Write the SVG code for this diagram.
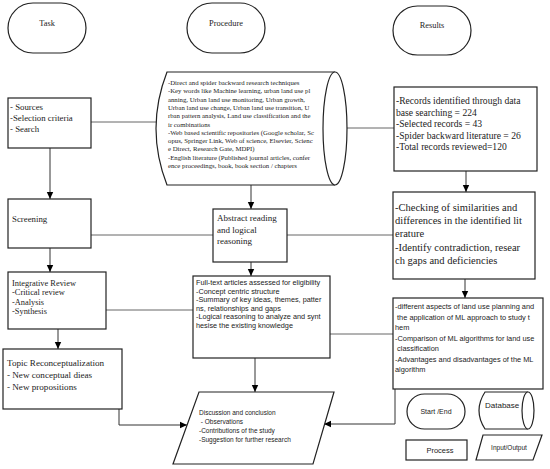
<svg xmlns="http://www.w3.org/2000/svg" width="550" height="469" viewBox="0 0 550 469">
<defs>
<marker id="ah" markerWidth="8" markerHeight="8" refX="7" refY="4" orient="auto" markerUnits="userSpaceOnUse">
<path d="M0,0.8 L7,4 L0,7.2 Z" fill="#000"/>
</marker>
</defs>
<style>
.box{fill:#fff;stroke:#222;stroke-width:1.2}
.con{fill:none;stroke:#666;stroke-width:1}
.arr{fill:none;stroke:#333;stroke-width:1;marker-end:url(#ah)}
.sf{font-family:"Liberation Serif","Times New Roman",serif;fill:#222}
.ss{font-family:"Liberation Sans",Arial,sans-serif;fill:#222}
</style>
<rect width="550" height="469" fill="#fff"/>
<g id="connectors">
<line class="con" x1="91" y1="122" x2="157" y2="122"/>
<line class="con" x1="347" y1="128" x2="394" y2="128"/>
<line class="con" x1="91" y1="235" x2="213" y2="235"/>
<line class="con" x1="287" y1="235" x2="393" y2="235"/>
<line class="con" x1="106" y1="310" x2="193" y2="310"/>
<line class="con" x1="330" y1="334" x2="393" y2="334"/>
<line class="arr" x1="50" y1="148" x2="50" y2="199"/>
<line class="arr" x1="50" y1="248" x2="50" y2="272"/>
<line class="arr" x1="58" y1="329" x2="58" y2="349"/>
<line class="arr" x1="251" y1="185" x2="251" y2="209"/>
<line class="arr" x1="251" y1="262" x2="251" y2="276"/>
<line class="arr" x1="255" y1="358" x2="255" y2="392"/>
<line class="arr" x1="466" y1="171" x2="466" y2="192"/>
<line class="arr" x1="465" y1="279" x2="465" y2="298"/>
<polyline class="arr" points="119,409 119,425 187,425"/>
<polyline class="arr" points="395,389 395,424 324,424"/>
</g>
<g id="task">
<rect class="box" x="8" y="3" width="78" height="50" rx="25"/>
<text class="sf" x="47" y="26" font-size="8.4" text-anchor="middle">Task</text>
</g>
<g id="procedure">
<rect class="box" x="187" y="3" width="78" height="50" rx="25"/>
<text class="sf" x="226" y="26" font-size="8.4" text-anchor="middle">Procedure</text>
</g>
<g id="results">
<rect class="box" x="393" y="6" width="78" height="49" rx="24.5"/>
<text class="sf" x="432" y="28" font-size="8.4" text-anchor="middle">Results</text>
</g>
<g id="sources">
<rect class="box" x="8" y="98" width="83" height="50"/>
<text class="sf" font-size="8.8"><tspan x="10" y="110">- Sources</tspan><tspan x="10" y="121">-Selection criteria</tspan><tspan x="10" y="132">- Search</tspan></text>
</g>
<g id="database-search">
<path class="box" d="M167,72 L335,72 A12,56.5 0 0 1 335,185 L167,185 Q145,128.5 167,72 Z"/>
<path class="box" d="M335,72 A12,56.5 0 0 0 335,185" fill="none"/>
<text class="sf" font-size="6.75"><tspan x="168" y="85">-Direct and spider backward research techniques</tspan><tspan x="168" y="93.3">-Key words like Machine learning, urban land use pl</tspan><tspan x="168" y="101.6">anning, Urban land use monitoring, Urban growth,</tspan><tspan x="168" y="109.9">Urban land use change, Urban land use transition, U</tspan><tspan x="168" y="118.2">rban pattern analysis, Land use classification and the</tspan><tspan x="168" y="126.5">ir combinations</tspan><tspan x="168" y="134.8">-Web based scientific repositories (Google scholar, Sc</tspan><tspan x="168" y="143.1">opus, Springer Link, Web of science, Elsevier, Scienc</tspan><tspan x="168" y="151.4">e Direct, Research Gate, MDPI)</tspan><tspan x="168" y="159.7">-English literature (Published journal articles, confer</tspan><tspan x="168" y="168">ence proceedings, book, book section / chapters</tspan></text>
</g>
<g id="records">
<rect class="box" x="394" y="87" width="143" height="84"/>
<text class="sf" font-size="9.6"><tspan x="396" y="104">-Records identified through data</tspan><tspan x="396" y="115.5">base searching = 224</tspan><tspan x="396" y="127">-Selected records = 43</tspan><tspan x="396" y="138.5">-Spider backward literature = 26</tspan><tspan x="396" y="150">-Total records reviewed=120</tspan></text>
</g>
<g id="screening">
<rect class="box" x="8" y="199" width="83" height="49"/>
<text class="sf" x="12" y="222" font-size="8.8">Screening</text>
</g>
<g id="abstract">
<rect class="box" x="213" y="209" width="74" height="53"/>
<text class="sf" font-size="9"><tspan x="217" y="221">Abstract reading</tspan><tspan x="217" y="232.5">and logical</tspan><tspan x="217" y="244">reasoning</tspan></text>
</g>
<g id="checking">
<rect class="box" x="393" y="192" width="142" height="87"/>
<text class="sf" font-size="10.5"><tspan x="395" y="211">-Checking of similarities and</tspan><tspan x="395" y="224">differences in the identified lit</tspan><tspan x="395" y="237">erature</tspan><tspan x="395" y="251">-Identify contradiction, resear</tspan><tspan x="395" y="264">ch gaps and deficiencies</tspan></text>
</g>
<g id="integrative">
<rect class="box" x="8" y="272" width="98" height="57"/>
<text class="sf" font-size="8.4"><tspan x="12" y="285.5">Integrative Review</tspan><tspan x="12" y="295">-Critical review</tspan><tspan x="12" y="304.5">-Analysis</tspan><tspan x="12" y="314">-Synthesis</tspan></text>
</g>
<g id="fulltext">
<rect class="box" x="193" y="276" width="137" height="82"/>
<text class="ss" font-size="7.3"><tspan x="196" y="285">Full-text articles assessed for eligibility</tspan><tspan x="196" y="293.5">-Concept centric structure</tspan><tspan x="196" y="302">-Summary of key ideas, themes, patter</tspan><tspan x="196" y="310.5">ns, relationships and gaps</tspan><tspan x="196" y="319">-Logical reasoning to analyze and synt</tspan><tspan x="196" y="327.5">hesise the existing knowledge</tspan></text>
</g>
<g id="aspects">
<rect class="box" x="393" y="298" width="150" height="91"/>
<text class="ss" font-size="7.4"><tspan x="395" y="309">-different aspects of land use planning and</tspan><tspan x="395" y="319.5"> the application of ML approach to study t</tspan><tspan x="395" y="330">hem</tspan><tspan x="395" y="340.5">-Comparison of ML algorithms for land use</tspan><tspan x="395" y="351"> classification</tspan><tspan x="395" y="361.5">-Advantages and disadvantages of the ML</tspan><tspan x="395" y="372">algorithm</tspan></text>
</g>
<g id="topic">
<rect class="box" x="3" y="349" width="119" height="60"/>
<text class="sf" font-size="9.1"><tspan x="7" y="366">Topic Reconceptualization</tspan><tspan x="7" y="378">- New conceptual dieas</tspan><tspan x="7" y="390">- New propositions</tspan></text>
</g>
<g id="discussion">
<polygon class="box" points="199,392 334,392 313,464 173,464"/>
<text class="ss" font-size="6.5"><tspan x="199" y="415">Discussion and conclusion</tspan><tspan x="199" y="424"> - Observations</tspan><tspan x="199" y="433">-Contributions of the study</tspan><tspan x="199" y="442">-Suggestion for further research</tspan></text>
</g>
<g id="legend-startend">
<rect class="box" x="407" y="394" width="58" height="35" rx="17.5"/>
<text class="ss" x="436" y="414" font-size="7" text-anchor="middle">Start /End</text>
</g>
<g id="legend-database">
<path class="box" d="M485,392 L528,392 A6,18.5 0 0 1 528,429 L485,429 Q473,410.5 485,392 Z"/>
<path class="box" d="M528,392 A6,18.5 0 0 0 528,429" fill="none"/>
<text class="ss" x="485" y="408" font-size="8">Database</text>
</g>
<g id="legend-process">
<rect class="box" x="406" y="440" width="61" height="20"/>
<text class="ss" x="440" y="453" font-size="7.5" text-anchor="middle">Process</text>
</g>
<g id="legend-io">
<polygon class="box" points="483,435 542,435 533,460 476,460"/>
<text class="ss" x="509" y="450" font-size="6.5" text-anchor="middle">Input/Output</text>
</g>
</svg>
